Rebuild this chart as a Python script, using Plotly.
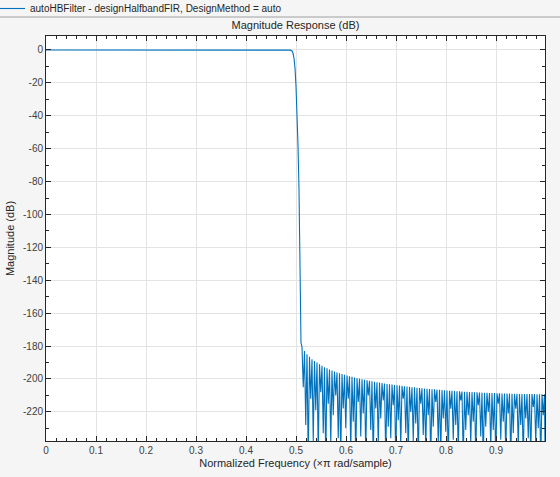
import plotly.graph_objects as go

# ---- data ----
series_name = "autoHBFilter - designHalfbandFIR, DesignMethod = auto"

# passband + transition band (normalized frequency, magnitude dB)
pass_freq = [0.0, 0.1, 0.2, 0.3, 0.4, 0.48, 0.489, 0.492, 0.494, 0.496, 0.498, 0.500,
             0.502, 0.504, 0.506, 0.508, 0.510]
pass_mag = [0.0, 0.0, 0.0, 0.0, 0.0, 0.0, -0.1, -0.6, -2.0, -5.0, -11.0, -22.0,
            -38.0, -58.0, -85.0, -125.0, -178.0]

# stopband: lobe peaks and nulls, interleaved
stop_freq = [
    0.5120, 0.5145, 0.5170, 0.5195, 0.5220, 0.5245, 0.5270, 0.5295, 0.5320, 0.5345,
    0.5370, 0.5395, 0.5420, 0.5445, 0.5470, 0.5495, 0.5520, 0.5545, 0.5570, 0.5595,
    0.5620, 0.5645, 0.5670, 0.5695, 0.5720, 0.5745, 0.5770, 0.5795, 0.5820, 0.5845,
    0.5870, 0.5895, 0.5920, 0.5945, 0.5970, 0.5995, 0.6020, 0.6045, 0.6070, 0.6095,
    0.6120, 0.6145, 0.6170, 0.6195, 0.6220, 0.6245, 0.6270, 0.6295, 0.6320, 0.6345,
    0.6370, 0.6395, 0.6420, 0.6445, 0.6470, 0.6495, 0.6520, 0.6545, 0.6570, 0.6595,
    0.6620, 0.6645, 0.6670, 0.6695, 0.6720, 0.6745, 0.6770, 0.6795, 0.6820, 0.6845,
    0.6870, 0.6895, 0.6920, 0.6945, 0.6970, 0.6995, 0.7020, 0.7045, 0.7070, 0.7095,
    0.7120, 0.7145, 0.7170, 0.7195, 0.7220, 0.7245, 0.7270, 0.7295, 0.7320, 0.7345,
    0.7370, 0.7395, 0.7420, 0.7445, 0.7470, 0.7495, 0.7520, 0.7545, 0.7570, 0.7595,
    0.7620, 0.7645, 0.7670, 0.7695, 0.7720, 0.7745, 0.7770, 0.7795, 0.7820, 0.7845,
    0.7870, 0.7895, 0.7920, 0.7945, 0.7970, 0.7995, 0.8020, 0.8045, 0.8070, 0.8095,
    0.8120, 0.8145, 0.8170, 0.8195, 0.8220, 0.8245, 0.8270, 0.8295, 0.8320, 0.8345,
    0.8370, 0.8395, 0.8420, 0.8445, 0.8470, 0.8495, 0.8520, 0.8545, 0.8570, 0.8595,
    0.8620, 0.8645, 0.8670, 0.8695, 0.8720, 0.8745, 0.8770, 0.8795, 0.8820, 0.8845,
    0.8870, 0.8895, 0.8920, 0.8945, 0.8970, 0.8995, 0.9020, 0.9045, 0.9070, 0.9095,
    0.9120, 0.9145, 0.9170, 0.9195, 0.9220, 0.9245, 0.9270, 0.9295, 0.9320, 0.9345,
    0.9370, 0.9395, 0.9420, 0.9445, 0.9470, 0.9495, 0.9520, 0.9545, 0.9570, 0.9595,
    0.9620, 0.9645, 0.9670, 0.9695, 0.9720, 0.9745, 0.9770, 0.9795, 0.9820, 0.9845,
    0.9870, 0.9895, 0.9920, 0.9945, 0.9970, 0.9980,
]
stop_mag = [
    -180.5, -205.0, -183.0, -228.0, -185.0, -250.0, -186.5, -212.0, -188.0, -238.0,
    -189.0, -219.0, -190.0, -245.0, -191.0, -208.0, -192.0, -233.0, -192.8, -250.0,
    -193.5, -215.0, -194.2, -240.0, -194.8, -222.0, -195.4, -210.0, -196.0, -236.0,
    -196.5, -248.0, -197.0, -218.0, -197.5, -230.0, -197.9, -212.0, -198.3, -244.0,
    -198.7, -226.0, -199.1, -250.0, -199.5, -214.0, -199.8, -235.0, -200.2, -221.0,
    -200.5, -246.0, -200.8, -210.0, -201.1, -231.0, -201.4, -250.0, -201.7, -218.0,
    -202.0, -240.0, -202.2, -224.0, -202.5, -213.0, -202.7, -248.0, -203.0, -229.0,
    -203.2, -236.0, -203.4, -216.0, -203.6, -250.0, -203.8, -225.0, -204.0, -241.0,
    -204.2, -212.0, -204.4, -233.0, -204.6, -247.0, -204.8, -220.0, -205.0, -238.0,
    -205.1, -227.0, -205.3, -250.0, -205.5, -215.0, -205.6, -234.0, -205.8, -243.0,
    -205.9, -222.0, -206.1, -250.0, -206.2, -229.0, -206.3, -214.0, -206.5, -239.0,
    -206.6, -246.0, -206.7, -224.0, -206.8, -232.0, -207.0, -250.0, -207.1, -218.0,
    -207.2, -237.0, -207.3, -228.0, -207.4, -245.0, -207.5, -213.0, -207.6, -250.0,
    -207.7, -231.0, -207.8, -222.0, -207.9, -240.0, -208.0, -226.0, -208.1, -248.0,
    -208.1, -216.0, -208.2, -235.0, -208.3, -250.0, -208.4, -229.0, -208.4, -220.0,
    -208.5, -242.0, -208.6, -231.0, -208.6, -250.0, -208.7, -215.0, -208.7, -237.0,
    -208.8, -226.0, -208.8, -246.0, -208.9, -221.0, -208.9, -250.0, -209.0, -233.0,
    -209.0, -218.0, -209.0, -241.0, -209.1, -228.0, -209.1, -250.0, -209.1, -224.0,
    -209.2, -236.0, -209.2, -247.0, -209.2, -217.0, -209.2, -239.0, -209.3, -230.0,
    -209.3, -250.0, -209.3, -222.0, -209.3, -243.0, -209.3, -209.3,
]

x_ticks = [0, 0.1, 0.2, 0.3, 0.4, 0.5, 0.6, 0.7, 0.8, 0.9]
x_tick_text = ["0", "0.1", "0.2", "0.3", "0.4", "0.5", "0.6", "0.7", "0.8", "0.9"]
y_ticks = [0, -20, -40, -60, -80, -100, -120, -140, -160, -180, -200, -220]
y_tick_text = [str(v) for v in y_ticks]

freq = pass_freq + stop_freq
mag = pass_mag + stop_mag

# ---- styling ----
LINE_BLUE = "#0072BD"
AX = "#262626"
TXT = "#404040"
FONT = "Liberation Sans, Arial, sans-serif"
BG = "#F5F5F5"

W, H = 560, 477
ML, MR, MT, MB = 46, 15, 36, 36
PW, PH = W - ML - MR, H - MT - MB

fig = go.Figure()
fig.add_trace(go.Scatter(
    x=freq, y=mag, mode="lines", name=series_name,
    line=dict(color=LINE_BLUE, width=1.1),
    showlegend=True,
))

axis_common = dict(
    showline=True, linecolor=AX, linewidth=1, mirror="ticks",
    ticks="inside", ticklen=5, tickcolor=AX, tickwidth=1,
    showgrid=True, gridcolor="#E3E3E3", gridwidth=1,
    zeroline=False, automargin=False,
    tickfont=dict(family=FONT, size=10, color=TXT),
)

fig.update_xaxes(
    range=[0, 0.998], tickmode="array", tickvals=x_ticks, ticktext=x_tick_text,
    title=dict(text="Normalized Frequency (×π rad/sample)",
               font=dict(family=FONT, size=11, color=AX), standoff=4),
    minor=dict(dtick=0.02, ticklen=3, tickcolor=AX, ticks="inside", showgrid=False),
    **axis_common,
)
fig.update_yaxes(
    range=[-237.7, 8.5], tickmode="array", tickvals=y_ticks, ticktext=y_tick_text,
    title=dict(text="Magnitude (dB)",
               font=dict(family=FONT, size=11, color=AX), standoff=6),
    minor=dict(dtick=10, ticklen=3, tickcolor=AX, ticks="inside", showgrid=False),
    **axis_common,
)

fig.update_layout(
    width=W, height=H,
    margin=dict(l=ML, r=MR, t=MT, b=MB, autoexpand=False),
    paper_bgcolor=BG, plot_bgcolor="white",
    font=dict(family=FONT, size=10, color=AX),
    title=dict(text="Magnitude Response (dB)", x=(ML + PW / 2) / W, xanchor="center",
               y=1 - 25 / H, yanchor="middle",
               font=dict(family=FONT, size=11, color=AX)),
    legend=dict(
        x=-(ML + 10) / PW, xanchor="left", y=1 + (MT + 6) / PH, yanchor="top",
        bgcolor="rgba(0,0,0,0)", borderwidth=0, itemwidth=30,
        font=dict(family=FONT, size=10, color=AX),
        tracegroupgap=0,
    ),
    shapes=[dict(type="line", xref="paper", yref="paper",
                 x0=-ML / PW, x1=(W - ML) / PW, y0=1 + (MT - 17) / PH, y1=1 + (MT - 17) / PH,
                 line=dict(color="#A0A0A0", width=1))],
)

fig.write_html("out.html", config={"displayModeBar": False},
               post_script="document.body.style.margin='0px';")
